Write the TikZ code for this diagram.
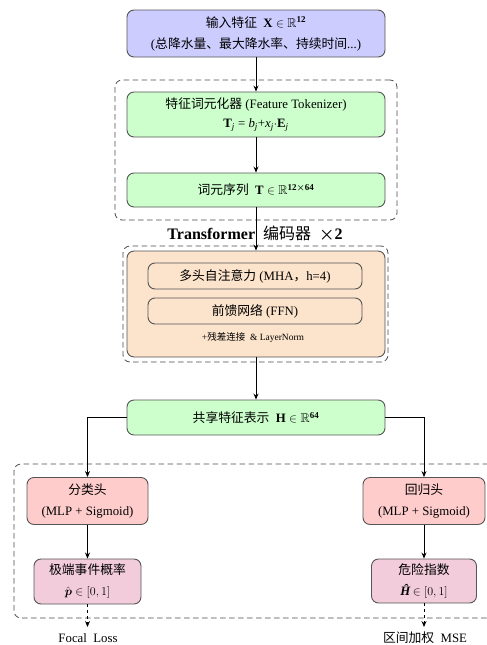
\documentclass[tikz,border=0pt]{standalone}
\usepackage{amsmath,amssymb}
\usepackage{fontspec}
\setmainfont{Liberation Serif}
\newfontfamily\cjk{Noto Sans CJK SC}
\usetikzlibrary{arrows.meta}
\definecolor{inblue}{HTML}{CCCCFF}
\definecolor{lgreen}{HTML}{CCFFCC}
\definecolor{peach}{HTML}{FCE3CB}
\definecolor{lpink}{HTML}{FFCCCC}
\definecolor{mauve}{HTML}{F2CCDA}
\definecolor{edgegray}{HTML}{555555}
\tikzset{
  box/.style={draw=edgegray, line width=0.9pt, rounded corners=7pt, align=center, inner sep=0pt, font=\fontsize{12.8}{21}\selectfont},
  grp/.style={draw=black!70, dashed, dash pattern=on 5.5pt off 3.5pt, line width=0.8pt, rounded corners=7pt, inner sep=0pt},
  arr/.style={-{Stealth[length=6pt,width=5pt]}, line width=0.9pt},
  lbl/.style={font=\fontsize{12.8}{14}\selectfont, inner sep=1pt}
}
\begin{document}
\begin{tikzpicture}[x=1pt,y=-1pt]
\useasboundingbox (0,0) rectangle (487,645);
\fill[white] (0,0) rectangle (487,645);
% dashed groups
\node[grp, minimum width=282pt, minimum height=140pt] (g1) at (256,150) {};
\node[grp, minimum width=265pt, minimum height=116pt] (g2) at (255.5,304) {};
\node[grp, minimum width=481pt, minimum height=154pt] (g3) at (254.5,541) {};
% boxes
\node[box, fill=inblue, minimum width=258pt, minimum height=47pt] (in) at (256,33.5)
  {{\cjk 输入特征}\ \ $\mathbf{X}\in\mathbb{R}^{\mathbf{12}}$\\({\cjk 总降水量、最大降水率、持续时间}...)};
\node[box, fill=lgreen, minimum width=258pt, minimum height=45pt, font=\fontsize{12.8}{19}\selectfont] (tok) at (256,114.5)
  {{\cjk 特征词元化器}\ (Feature Tokenizer)\\\textbf{T}\textsubscript{\textit{j}} = \textit{b}\textsubscript{\textit{j}}+\textit{x}\textsubscript{\textit{j}}$\cdot$\textbf{E}\textsubscript{\textit{j}}};
\node[box, fill=lgreen, minimum width=258pt, minimum height=34pt] (seq) at (256,190)
  {{\cjk 词元序列}\ \ $\mathbf{T}\in\mathbb{R}^{\mathbf{12}\boldsymbol{\times}\mathbf{64}}$};
\node[font=\bfseries\fontsize{16}{18}\selectfont] (ttl) at (255,234)
  {Transformer\ \ {\cjk\mdseries 编码器}\ \ $\boldsymbol{\times}$2};
\node[box, fill=peach, minimum width=258pt, minimum height=106pt] (enc) at (256,304) {};
\node[box, fill=peach, minimum width=214pt, minimum height=26pt] (mha) at (255,276)
  {{\cjk 多头自注意力}\ (MHA{\cjk ，}h=4)};
\node[box, fill=peach, minimum width=214pt, minimum height=26pt] (ffn) at (255,311)
  {{\cjk 前馈网络}\ (FFN)};
\node[font=\fontsize{9.5}{11}\selectfont, inner sep=1pt] (note) at (253,338)
  {+{\cjk 残差连接}\ \ \& LayerNorm};
\node[box, fill=lgreen, minimum width=258pt, minimum height=35pt] (sh) at (256,417.5)
  {{\cjk 共享特征表示}\ \ $\mathbf{H}\in\mathbb{R}^{\mathbf{64}}$};
\node[box, fill=lpink, minimum width=121pt, minimum height=47pt] (cls) at (87.5,501)
  {{\cjk 分类头}\\(MLP + Sigmoid)};
\node[box, fill=mauve, minimum width=107pt, minimum height=45pt] (prob) at (87.5,581.5)
  {{\cjk 极端事件概率}\\$\hat{\boldsymbol{p}}\in[0,1]$};
\node[box, fill=lpink, minimum width=122pt, minimum height=47pt] (reg) at (424,501)
  {{\cjk 回归头}\\(MLP + Sigmoid)};
\node[box, fill=mauve, minimum width=105pt, minimum height=44pt] (haz) at (424,581)
  {{\cjk 危险指数}\\\textbf{\textit{Ĥ}}\,$\in[0,1]$};
\coordinate (fl) at (87.5,627);
\coordinate (ms) at (424,627);
\node[lbl] (fltxt) at (88,638) {Focal\ \ Loss};
\node[lbl] (mstxt) at (425,638) {{\cjk 区间加权}\ \ MSE};
% connectors
\draw[arr] (in.south) -- (tok.north);
\draw[arr] (tok.south) -- (seq.north);
\draw[arr] (seq.south) -- (enc.north);
\draw[arr] (enc.south) -- (sh.north);
\draw[arr] (sh.west) -| (cls.north);
\draw[arr] (sh.east) -| (reg.north);
\draw[arr] (cls.south) -- (prob.north);
\draw[arr] (reg.south) -- (haz.north);
\draw[arr, dashed] (prob.south) -- (fl);
\draw[arr, dashed] (haz.south) -- (ms);
\end{tikzpicture}
\end{document}
